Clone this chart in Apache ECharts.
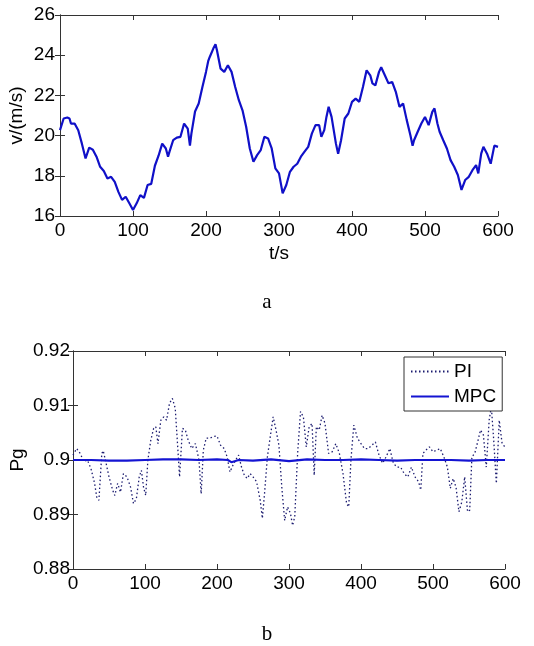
<!DOCTYPE html>
<html>
<head>
<meta charset="utf-8">
<script src="https://cdn.jsdelivr.net/npm/echarts@6/dist/echarts.min.js"></script>
<style>
  html, body { margin: 0; padding: 0; background: #fff; }
  #main { width: 534px; height: 646px; }
</style>
</head>
<body>
<div id="main"></div>
<script>
// wind speed (chart a)
const tWind = [0,5,10,13,15,20,25,30,35,40,45,50,55,60,65,70,75,80,85,90,95,100,105,110,115,120,125,130,135,140,145,148,150,155,160,165,170,175,178,180,185,190,195,200,203,205,210,213,215,220,225,230,235,240,245,250,255,260,265,270,275,280,285,290,295,300,305,310,315,320,325,330,335,340,345,350,355,358,362,365,368,372,378,381,385,390,395,400,405,410,415,420,425,428,432,437,440,445,450,455,460,465,470,475,480,483,485,490,495,500,505,510,513,517,520,525,530,535,540,545,550,555,560,565,570,573,577,580,585,590,595,600];
const vWind = [20.27,20.85,20.9,20.85,20.6,20.6,20.27,19.6,18.86,19.4,19.3,18.95,18.45,18.24,17.87,17.95,17.7,17.2,16.8,16.96,16.63,16.3,16.63,17.04,16.9,17.54,17.6,18.5,19.0,19.6,19.36,18.95,19.2,19.77,19.9,19.94,20.6,20.35,19.5,20.1,21.2,21.6,22.4,23.17,23.7,23.9,24.33,24.54,24.25,23.33,23.17,23.5,23.17,22.42,21.76,21.26,20.44,19.36,18.7,19.03,19.28,19.94,19.86,19.36,18.37,18.12,17.13,17.54,18.2,18.45,18.6,18.95,19.2,19.44,20.1,20.52,20.52,19.94,20.27,20.93,21.43,20.93,19.6,19.1,19.77,20.85,21.1,21.68,21.84,21.68,22.42,23.25,23.0,22.6,22.5,23.17,23.4,23.0,22.6,22.67,22.18,21.43,21.6,20.77,20.02,19.5,19.77,20.19,20.6,20.93,20.52,21.18,21.35,20.6,20.19,19.77,19.36,18.78,18.45,18.04,17.3,17.79,17.95,18.28,18.53,18.12,19.1,19.44,19.1,18.6,19.5,19.44];

// Pg (chart b)
const tPI = [0,5,10,15,20,25,30,33,36,40,42,45,50,55,58,62,66,70,75,80,84,88,92,95,98,101,104,108,112,115,118,122,126,130,134,138,142,146,148,152,156,160,165,170,175,178,181,185,190,195,200,205,210,214,218,222,226,230,234,238,242,246,250,255,260,263,266,270,274,278,282,286,290,294,298,302,305,308,312,316,320,324,328,332,335,338,342,346,350,355,360,365,370,375,380,383,386,390,395,400,405,410,415,420,425,430,435,440,445,450,455,460,465,470,475,480,483,486,490,495,500,505,510,515,520,524,528,532,536,540,544,548,551,554,558,562,566,570,574,578,581,584,588,592,596,600];
const pgPI = [0.9009,0.9021,0.9012,0.8997,0.9,0.8984,0.8957,0.8932,0.8926,0.9012,0.9017,0.9,0.8969,0.8945,0.8935,0.8957,0.8941,0.8975,0.8969,0.895,0.892,0.8929,0.8969,0.8981,0.895,0.8935,0.9,0.9036,0.9058,0.9061,0.903,0.9073,0.9079,0.9073,0.9104,0.9113,0.9095,0.9012,0.8969,0.9058,0.9055,0.9036,0.9021,0.903,0.9,0.8938,0.9018,0.904,0.904,0.9043,0.9044,0.9027,0.9021,0.9006,0.8978,0.899,0.9,0.9009,0.8987,0.8972,0.8966,0.8975,0.8969,0.896,0.8926,0.8893,0.8938,0.9006,0.9043,0.9079,0.9055,0.9027,0.895,0.8889,0.8914,0.8902,0.888,0.8896,0.9012,0.9089,0.9079,0.9024,0.9061,0.9067,0.8972,0.9061,0.9055,0.9082,0.9067,0.9012,0.9015,0.903,0.9012,0.8975,0.892,0.8914,0.9,0.9064,0.904,0.903,0.9021,0.9021,0.9027,0.9033,0.9009,0.8994,0.9006,0.9021,0.8994,0.8987,0.8987,0.8975,0.8969,0.8987,0.8969,0.896,0.8945,0.9012,0.9018,0.9024,0.9015,0.9018,0.9021,0.9006,0.8987,0.8948,0.8966,0.895,0.8905,0.8923,0.8969,0.8905,0.8908,0.9006,0.9012,0.9033,0.9055,0.9046,0.8987,0.9073,0.9098,0.9043,0.8957,0.9073,0.903,0.9024];
const tMPC = [0,25,50,75,100,125,150,175,200,215,220,230,250,275,300,325,350,375,400,425,450,475,500,525,550,575,600];
const pgMPC = [0.9,0.9,0.8999,0.8999,0.9,0.9001,0.9001,0.9,0.9001,0.9,0.8996,0.9,0.8999,0.9001,0.8998,0.9001,0.9,0.9,0.9001,0.9,0.8999,0.9,0.9,0.9,0.8999,0.9,0.9];

function pairs(xs, ys) {
    return xs.map((x, i) => [x, ys[i]]);
}

const FONT = 'Liberation Sans, Arial, sans-serif';
const FS = 19;
const lineCol = '#333';

// axis helpers (matlab style box, ticks inside on all four sides)
function xAx(grid, top) {
    return {
        type: 'value', gridIndex: grid, position: top ? 'top' : 'bottom',
        min: 0, max: 600, interval: 100,
        axisLine: { show: true, lineStyle: { color: lineCol, width: 1 } },
        axisTick: { show: true, inside: true, length: 5, lineStyle: { color: lineCol } },
        axisLabel: { show: !top, color: '#000', fontSize: FS, fontFamily: FONT, margin: 5 },
        splitLine: { show: false }
    };
}
function yAx(grid, right, min, max, step, margin) {
    return {
        type: 'value', gridIndex: grid, position: right ? 'right' : 'left',
        min: min, max: max, interval: step,
        axisLine: { show: true, lineStyle: { color: lineCol, width: 1 } },
        axisTick: { show: true, inside: true, length: 5, lineStyle: { color: lineCol } },
        axisLabel: { show: !right, color: '#000', fontSize: FS, fontFamily: FONT, margin: margin },
        splitLine: { show: false }
    };
}

const chart = echarts.init(document.getElementById('main'));

const xa0 = xAx(0, false);
xa0.name = 't/s';
xa0.nameLocation = 'middle';
xa0.nameGap = 28;
xa0.nameTextStyle = { color: '#000', fontSize: FS, fontFamily: FONT };

const ya0 = yAx(0, false, 16, 26, 2, 5);
ya0.name = 'v/(m/s)';
ya0.nameLocation = 'middle';
ya0.nameGap = 34;
ya0.nameMoveOverlap = false;
ya0.nameTextStyle = { color: '#000', fontSize: FS, fontFamily: FONT };

const ya1 = yAx(1, false, 0.88, 0.92, 0.01, 3);
ya1.name = 'Pg';
ya1.nameLocation = 'middle';
ya1.nameGap = 46;
ya1.nameMoveOverlap = false;
ya1.nameTextStyle = { color: '#000', fontSize: FS, fontFamily: FONT };

chart.setOption({
    backgroundColor: '#fff',
    animation: false,
    title: [
        { text: 'a', left: 'center', top: 287, textStyle: { fontFamily: 'Liberation Serif, Times New Roman, serif', fontSize: 21, fontWeight: 'normal', color: '#000' } },
        { text: 'b', left: 'center', top: 619, textStyle: { fontFamily: 'Liberation Serif, Times New Roman, serif', fontSize: 21, fontWeight: 'normal', color: '#000' } }
    ],
    grid: [
        { left: 60, top: 15, width: 438, height: 201, containLabel: false, outerBoundsMode: 'none' },
        { left: 73, top: 351, width: 432, height: 218, containLabel: false, outerBoundsMode: 'none' }
    ],
    xAxis: [xa0, xAx(0, true), xAx(1, false), xAx(1, true)],
    yAxis: [ya0, yAx(0, true, 16, 26, 2, 5), ya1, yAx(1, true, 0.88, 0.92, 0.01, 3)],
    legend: {
        orient: 'vertical',
        left: 404, top: 357,
        padding: [5, 6, 5, 6],
        itemGap: 6,
        itemWidth: 38,
        itemHeight: 14,
        itemStyle: { opacity: 0 },
        backgroundColor: '#fff',
        borderColor: '#333',
        borderWidth: 1,
        borderRadius: 0,
        textStyle: { color: '#000', fontSize: FS, fontFamily: FONT },
        data: ['PI', 'MPC']
    },
    series: [
        {
            name: 'v', type: 'line', xAxisIndex: 0, yAxisIndex: 0,
            data: pairs(tWind, vWind), showSymbol: false, symbol: 'none',
            lineStyle: { color: '#1010c8', width: 2.2 }
        },
        {
            name: 'PI', type: 'line', xAxisIndex: 2, yAxisIndex: 2,
            data: pairs(tPI, pgPI), showSymbol: false, symbol: 'none',
            itemStyle: { color: '#1c1c70' },
            lineStyle: { color: '#1c1c70', width: 1.3, type: [1.5, 2.5] }
        },
        {
            name: 'MPC', type: 'line', xAxisIndex: 2, yAxisIndex: 2,
            data: pairs(tMPC, pgMPC), showSymbol: false, symbol: 'none',
            itemStyle: { color: '#1414d2' },
            lineStyle: { color: '#1414d2', width: 2.2 }
        }
    ]
});
</script>
</body>
</html>
